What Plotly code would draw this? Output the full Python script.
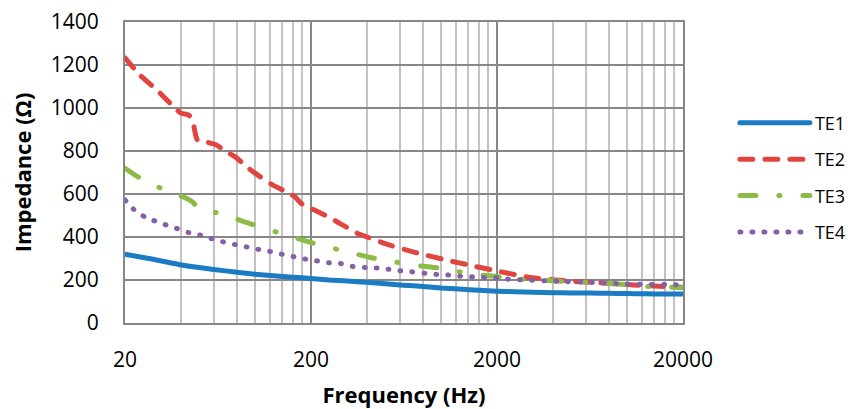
import plotly.graph_objects as go

# ---------------- data ----------------
te1_f = [20, 25, 30, 40, 50, 60, 80, 100, 125, 160, 200, 250, 315, 400, 500, 630, 800,
         1000, 1250, 1600, 2000, 2500, 3150, 4000, 5000, 6300, 8000, 10000, 12500, 16000, 20000]
te1_z = [320, 305, 292, 270, 258, 249, 236, 227, 220, 213, 207, 200, 195, 189, 183, 176, 170,
         163, 158, 152, 148, 145, 143, 141, 140, 139, 138, 137, 136, 135, 135]

te2_f = [20, 24, 30, 35, 40, 44, 46.5, 49, 54, 62, 70, 78, 90, 100, 125, 141, 165, 177, 200,
         237, 276, 297, 357, 400, 530, 707, 1077, 1500, 2000, 3100, 5000, 7800, 12000, 20000]
te2_z = [1233, 1154, 1080, 1022, 976, 968, 929, 851, 843, 828, 797, 774, 727, 697, 641, 618, 585, 556, 533,
         502, 471, 455, 416, 400, 362, 331, 292, 265, 242, 210, 195, 185, 175, 166]

te3_f = [20, 25, 32, 41, 46, 51, 66, 87, 111, 143, 188, 237, 315, 415, 530, 707, 1040, 1190,
         1590, 2100, 2660, 4000, 5300, 6600, 10800, 14000, 18300, 20000]
te3_z = [720, 665, 623, 587, 564, 525, 510, 471, 443, 412, 381, 357, 331, 305, 289, 269, 253, 242,
         225, 214, 204, 196, 191, 189, 176, 168, 166, 165]

te4_f = [20, 22.2, 25.5, 28.6, 32.8, 37.8, 43.9, 50.6, 58, 67, 78, 90, 104, 120, 139, 160, 185,
         214, 249, 288, 335, 392, 450, 520, 602, 695, 822, 948, 1090, 1258, 1450, 1670, 1990,
         2290, 4220, 6340, 10000, 18300, 20000]
te4_z = [572, 530, 494, 476, 458, 440, 421, 409, 393, 378, 365, 354, 343, 333, 320, 309, 298,
         289, 280, 277, 263, 258, 256, 250, 243, 238, 231, 226, 223, 218, 215, 212, 210,
         204, 194, 189, 181, 178, 178]

series_names = ["TE1", "TE2", "TE3", "TE4"]
x_tick_vals = [20, 200, 2000, 20000]
x_tick_text = ["20", "200", "2000", "20000"]
y_tick_vals = [0, 200, 400, 600, 800, 1000, 1200, 1400]
minor_vals = [k * b for b in (20, 200, 2000) for k in range(2, 10)]

x_title = "Frequency (Hz)"
y_title = "Impedance (Ω)"

# ---------------- styles ----------------
colors = ["#1b7bc3", "#e0463f", "#8cbb47", "#8560a8"]
dashes = ["solid", "13px,12px", "16px,23px,1px,23px", "1px,11px"]
FONT = "Open Sans"
MAJOR = "#878787"
MINOR = "#c3c3c3"
TXT = "#000000"

fig = go.Figure()
for name, f, z, c, d in zip(series_names, [te1_f, te2_f, te3_f, te4_f],
                            [te1_z, te2_z, te3_z, te4_z], colors, dashes):
    fig.add_trace(go.Scatter(x=f, y=z, name=name, mode="lines", legendgroup=name,
                             line=dict(color=c, width=5, dash=d, shape="spline", smoothing=0.6)))

fig.update_layout(
    width=848, height=409,
    margin=dict(l=125, r=165, t=22, b=86, autoexpand=False),
    paper_bgcolor="white", plot_bgcolor="white",
    font=dict(family=FONT, size=21, color=TXT),
    legend=dict(x=1.093, y=0.483, xanchor="left", yanchor="middle",
                font=dict(family=FONT, size=18, color=TXT),
                tracegroupgap=10, itemwidth=70, bgcolor="rgba(0,0,0,0)"),
    showlegend=True,
)

fig.update_xaxes(
    type="log", range=[1.30103, 4.30103], automargin=False,
    tickmode="array", tickvals=x_tick_vals, ticktext=x_tick_text,
    showgrid=True, gridcolor=MAJOR, gridwidth=1.5,
    minor=dict(tickmode="array", tickvals=minor_vals, showgrid=True, gridcolor=MINOR, gridwidth=1.5, ticks=""),
    showline=True, linecolor=MAJOR, linewidth=2, mirror=True,
    ticks="", ticklabelstandoff=17,
    title=dict(text=x_title, font=dict(family=FONT, size=22, color=TXT, weight="bold"), standoff=20),
    zeroline=False,
)
fig.update_yaxes(
    range=[0, 1400], tickmode="array", tickvals=y_tick_vals, automargin=False,
    showgrid=True, gridcolor=MAJOR, gridwidth=1.5,
    showline=True, linecolor=MAJOR, linewidth=2, mirror=True,
    ticks="", ticklabelstandoff=20,
    title=dict(text=y_title, font=dict(family=FONT, size=22, color=TXT, weight="bold"), standoff=13),
    zeroline=False,
)

post = """
document.querySelectorAll('path.js-line').forEach(function(p){
  p.style.strokeLinecap='round'; p.style.strokeLinejoin='round';
});
"""
fig.write_html("out.html", post_script=post)
